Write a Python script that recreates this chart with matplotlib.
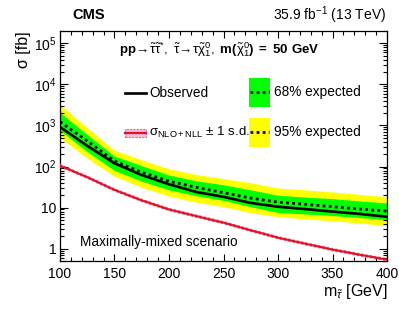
import matplotlib
matplotlib.use("Agg")
import matplotlib.pyplot as plt
from matplotlib.patches import Rectangle
from matplotlib.lines import Line2D
from matplotlib.ticker import FixedLocator, FuncFormatter, LogLocator, MultipleLocator
import numpy as np

plt.rcParams['font.family'] = ['Liberation Sans', 'DejaVu Sans']
plt.rcParams['mathtext.fontset'] = 'custom'
plt.rcParams['mathtext.rm'] = 'Liberation Sans'
plt.rcParams['mathtext.it'] = 'Liberation Sans:italic'
plt.rcParams['mathtext.bf'] = 'Liberation Sans:bold'

# ---- data ----
mass = [100, 125, 150, 175, 200, 225, 250, 275, 300, 325, 350, 375, 400]
observed = [920, 320, 120, 62, 37, 24, 18.3, 13, 10.5, 9.2, 8.0, 7.0, 6.0]
expected = [1230, 420, 137, 72, 44, 31, 23, 17, 13.6, 12, 10.5, 9.2, 8.2]
exp_1s_up = [2070, 600, 180, 105, 62, 45, 36, 27, 20, 18, 16.5, 14.5, 13]
exp_1s_dn = [755, 230, 80, 44, 27, 19.5, 15, 10.5, 7.6, 7.0, 6.4, 5.7, 5.1]
exp_2s_up = [3200, 880, 250, 145, 88, 64, 51, 40, 30, 27, 24, 21, 18.5]
exp_2s_dn = [510, 160, 58, 31, 19, 13.5, 10.5, 7.5, 6.0, 5.3, 4.8, 4.2, 3.6]
theory = [105, 55, 27, 15, 9.0, 6.2, 4.3, 2.8, 1.85, 1.32, 0.95, 0.71, 0.54]
theory_unc = 0.06

xticks = [100, 150, 200, 250, 300, 350, 400]
ytick_vals = [1, 10, 100, 1000, 10000, 100000]
ytick_labels = ['1', '10', r'$10^{2}$', r'$10^{3}$', r'$10^{4}$', r'$10^{5}$']

fig = plt.figure(figsize=(3.99, 3.09), dpi=100)
ax = fig.add_axes([60/399, 48/309, 327/399, 230/309])

m = np.array(mass)
ax.fill_between(m, exp_2s_dn, exp_2s_up, color='#ffff00', lw=0, zorder=1)
ax.fill_between(m, exp_1s_dn, exp_1s_up, color='#00ff00', lw=0, zorder=2)
ax.plot(m, expected, color='black', lw=2.0, ls=(0, (1, 1.2)), zorder=4)
ax.plot(m, observed, color='black', lw=1.9, zorder=5)
th = np.array(theory)
ax.plot(m, th * (1 + theory_unc), color='#d070b0', lw=0.9, ls=(0, (2, 1.5)), zorder=3)
ax.plot(m, th * (1 - theory_unc), color='#d070b0', lw=0.9, ls=(0, (2, 1.5)), zorder=3)
ax.plot(m, th, color='#e8101a', lw=1.5, zorder=3)

ax.set_xlim(100, 400)
ax.set_yscale('log')
ax.set_ylim(0.5, 2e5)

ax.xaxis.set_major_locator(FixedLocator(xticks))
ax.xaxis.set_minor_locator(MultipleLocator(10))
ax.yaxis.set_major_locator(FixedLocator(ytick_vals))
ax.yaxis.set_major_formatter(FuncFormatter(lambda v, p: dict(zip(ytick_vals, ytick_labels)).get(v, '')))
ax.yaxis.set_minor_locator(LogLocator(base=10, subs=np.arange(2, 10)))
ax.yaxis.set_minor_formatter(FuncFormatter(lambda v, p: ''))

ax.tick_params(which='both', direction='in', top=True, right=True, labelsize=10, width=0.8)
ax.tick_params(axis='y', which='major', length=5.8, pad=2.5)
ax.tick_params(axis='y', which='minor', length=2.9)
ax.tick_params(axis='x', which='major', length=5.0, pad=4)
ax.tick_params(axis='x', which='minor', length=2.6)
for s in ax.spines.values():
    s.set_linewidth(0.9)

ax.set_ylabel('σ [fb]', fontsize=11.5, loc='top', labelpad=2)
ax.set_xlabel(r'm$_{\tilde{\tau}}$ [GeV]', fontsize=11.5, loc='right', labelpad=1)

# header texts
fig.text(72/399, 1 - 15/309, 'CMS', fontsize=10.5, fontweight='bold', va='center', ha='left')
fig.text(386/399, 1 - 15/309, r'35.9 fb$^{-1}$ (13 TeV)', fontsize=10, va='center', ha='right')

ax.text(0.486, 0.917,
        r'$\mathbf{pp}\!\rightarrow\!\mathrm{\tilde{\tau}\tilde{\tau}^{*}},\ \mathrm{\tilde{\tau}}\!\rightarrow\!\mathrm{\tau\tilde{\chi}^{0}_{1}},\ \mathbf{m(}\mathrm{\tilde{\chi}^{0}_{1}}\mathbf{)\ =\ 50\ GeV}$',
        transform=ax.transAxes, fontsize=9.5, ha='center', va='center')

# legend
T = ax.transAxes
ax.add_line(Line2D([0.199, 0.262], [0.730, 0.730], color='black', lw=1.9, transform=T, clip_on=False))
ax.text(0.272, 0.730, 'Observed', transform=T, fontsize=9.8, va='center', ha='left')

ax.add_patch(Rectangle((0.199, 0.541), 0.063, 0.032, transform=T, facecolor='#f4c0dc',
                       edgecolor='#d070b0', lw=0.8, ls=(0, (2, 1)), clip_on=False, zorder=6))
ax.add_line(Line2D([0.199, 0.262], [0.557, 0.557], color='#e8101a', lw=1.6, transform=T, clip_on=False, zorder=7))
ax.text(0.272, 0.557, r'$\mathrm{\sigma_{NLO+NLL}}$ $\pm$ 1 s.d.', transform=T, fontsize=9.5, va='center', ha='left')

ax.add_patch(Rectangle((0.578, 0.670), 0.064, 0.126, transform=T, facecolor='#00ff00', lw=0, clip_on=False, zorder=6))
ax.add_line(Line2D([0.580, 0.640], [0.733, 0.733], color='black', lw=2.0, ls=(0, (1, 1.2)), transform=T, clip_on=False, zorder=7))
ax.text(0.654, 0.733, '68% expected', transform=T, fontsize=9.8, va='center', ha='left')

ax.add_patch(Rectangle((0.578, 0.496), 0.064, 0.126, transform=T, facecolor='#ffff00', lw=0, clip_on=False, zorder=6))
ax.add_line(Line2D([0.580, 0.640], [0.559, 0.559], color='black', lw=2.0, ls=(0, (1, 1.2)), transform=T, clip_on=False, zorder=7))
ax.text(0.654, 0.559, '95% expected', transform=T, fontsize=9.8, va='center', ha='left')

ax.text(0.061, 0.083, 'Maximally-mixed scenario', transform=T, fontsize=9.8, va='center', ha='left')

fig.savefig('out.png', dpi=100)
